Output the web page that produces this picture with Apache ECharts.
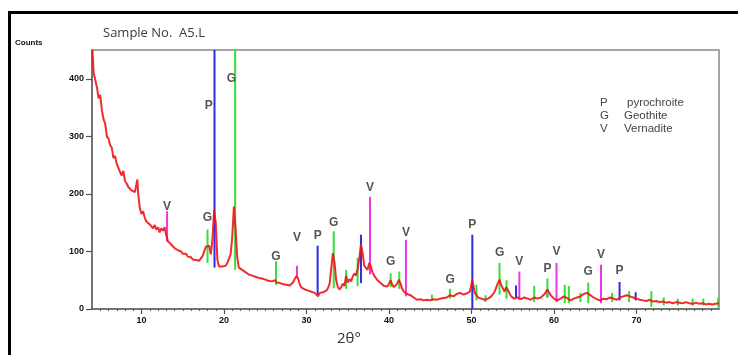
<!DOCTYPE html>
<html>
<head>
<meta charset="utf-8">
<script src="https://cdn.jsdelivr.net/npm/echarts@6/dist/echarts.min.js"></script>
<style>html,body{margin:0;padding:0;background:#fff;}#c{width:738px;height:355px;}</style>
</head>
<body>
<div id="c"></div>
<script>
// ---- Data ----
const twoTheta = [4.05,4.2,4.4,4.6,4.8,5.0,5.2,5.4,5.6,5.8,6.0,6.2,6.4,6.6,6.8,7.0,7.2,7.4,7.6,7.8,8.0,8.2,8.4,8.6,8.8,9.0,9.2,9.4,9.5,9.6,9.8,10.0,10.2,10.4,10.6,10.8,11.0,11.2,11.4,11.6,11.8,12.0,12.2,12.4,12.6,12.8,13.0,13.2,13.4,13.6,13.8,14.0,14.2,14.4,14.6,14.8,15.0,15.2,15.4,15.6,15.8,16.0,16.2,16.4,16.6,16.8,17.0,17.2,17.4,17.6,17.8,18.0,18.2,18.4,18.6,18.8,19.0,19.2,19.4,19.6,19.8,20.0,20.2,20.4,20.6,20.8,21.0,21.2,21.4,21.6,21.8,22.0,22.2,22.4,22.6,22.8,23.0,23.2,23.4,23.6,23.8,24.0,24.2,24.4,24.6,24.8,25.0,25.2,25.4,25.6,25.8,26.0,26.2,26.4,26.6,26.8,27.0,27.2,27.4,27.6,27.8,28.0,28.2,28.4,28.6,28.8,29.0,29.2,29.4,29.6,29.8,30.0,30.2,30.4,30.6,30.8,31.0,31.2,31.4,31.6,31.8,32.0,32.2,32.4,32.6,32.8,33.0,33.2,33.4,33.6,33.8,34.0,34.2,34.4,34.6,34.8,35.0,35.2,35.4,35.6,35.8,36.0,36.2,36.4,36.6,36.8,37.0,37.2,37.4,37.6,37.8,38.0,38.2,38.4,38.6,38.8,39.0,39.2,39.4,39.6,39.8,40.0,40.2,40.4,40.6,40.8,41.0,41.2,41.4,41.6,41.8,42.0,42.2,42.6,43.0,43.4,43.8,44.2,44.6,45.0,45.4,45.8,46.2,46.6,47.0,47.4,47.8,48.2,48.6,49.0,49.4,49.8,50.1,50.4,50.8,51.2,51.6,52.0,52.4,52.8,53.2,53.4,53.6,54.0,54.2,54.4,54.8,55.2,55.6,56.0,56.4,56.8,57.2,57.6,58.0,58.4,58.8,59.2,59.6,60.0,60.4,60.8,61.2,61.6,62.0,62.4,62.8,63.2,63.6,64.0,64.4,64.8,65.2,65.6,66.0,66.4,66.8,67.2,67.6,68.0,68.4,68.8,69.2,69.6,70.0,70.4,70.8,71.2,71.6,72.0,72.4,72.8,73.2,73.6,74.0,74.4,74.8,75.2,75.6,76.0,76.4,76.8,77.2,77.6,78.0,78.4,78.8,79.2,79.6,80.0];
const counts = [450,410,398,385,366,372,345,330,322,300,296,285,280,262,266,252,245,238,232,240,222,218,212,214,206,204,203,205,225,200,175,165,170,158,152,155,147,150,140,146,138,142,133,140,136,142,128,118,115,112,110,106,104,102,99,100,96,94,96,91,89,90,86,84,85,82,84,86,92,100,108,105,110,95,120,172,150,85,74,76,74,77,75,80,78,95,125,178,140,90,72,70,68,66,64,62,60,61,58,59,56,57,54,56,53,55,51,52,49,51,48,48,50,46,44,45,42,43,41,42,40,41,43,47,53,57,52,42,37,35,34,33,32,30,30,28,28,26,22,28,27,29,31,32,36,44,70,97,80,50,38,34,38,44,40,58,46,52,48,56,62,58,70,88,112,98,75,72,68,80,74,64,58,55,50,47,45,42,40,38,39,44,50,42,38,40,44,51,44,35,30,30,26,24,20,16,17,15,16,15,17,16,18,19,20,24,22,26,28,25,27,30,50,28,20,18,16,18,22,30,45,51,42,30,38,33,22,18,20,17,20,18,16,20,18,20,25,34,24,18,15,18,22,19,15,18,20,22,26,28,24,20,17,15,18,17,20,18,16,20,22,24,22,20,18,16,15,14,16,13,14,12,13,11,12,10,12,11,10,12,10,9,11,9,10,8,9,8,9,10];

// sticks: [2θ, base count, top count, label count (optional), label 2θ (optional)]
const pyrochroite = [[18.85,72,450,353,18.15],[31.35,25,110,127],[36.6,45,129],[50.1,0,129,146],[55.4,20,41],[59.2,20,34,70],[67.95,15,47,67],[69.9,15,29]];
const goethite = [[18.0,80,138,159],[21.35,68,450,401,20.9],[26.3,42,83,91],[33.3,36,135,150],[34.8,35,68],[36.2,40,89],[40.2,38,62,83],[41.25,35,65],[45.2,14,25],[47.4,18,35,51],[50.6,15,42],[51.7,12,24],[53.4,25,80,98],[54.25,18,50],[57.6,12,40],[59.2,20,53],[61.3,10,42],[61.8,10,40],[63.2,12,28],[64.15,10,46,64],[67.05,12,28],[69.1,12,31],[71.8,4,31],[73.3,6,20],[75.0,6,18],[76.8,6,18],[78.1,6,18],[79.9,4,20]];
const vernadite = [[13.1,117,170,178],[28.85,55,75,124],[37.7,60,195,210],[42.05,22,120,132],[55.8,16,65,83],[60.3,12,80,100],[65.7,10,77,94]];

const xTickLabels = [10,20,30,40,50,60,70];
const yTickLabels = [0,100,200,300,400];
const legendItems = [['P','pyrochroite'],['G','Geothite'],['V','Vernadite']];

// ---- Chart ----
const chart = echarts.init(document.getElementById('c'), null, {renderer:'canvas'});
const minorTicks = [];
for (let v = 5; v < 80; v++) if (v % 10 !== 0) minorTicks.push(v);

function stickSeries(name, arr, color, letter) {
  return {
    type: 'custom', name: name, z: 2,
    data: arr.map(d => [d[0], d[1], d[2], d[3] != null ? d[3] : -1, d[4] != null ? d[4] : d[0]]),
    encode: {x: 0, y: [1, 2]},
    renderItem: function (params, api) {
      const x = api.value(0), b = api.value(1), t = api.value(2), ly = api.value(3), lx = api.value(4);
      const p0 = api.coord([x, b]), p1 = api.coord([x, t]);
      const children = [{type: 'line', shape: {x1: p0[0], y1: p0[1], x2: p1[0], y2: p1[1]},
        style: {stroke: color, lineWidth: 2}}];
      if (ly >= 0) {
        const pl = api.coord([lx, ly]);
        children.push({type: 'text', x: pl[0], y: pl[1],
          style: {text: letter, fill: '#555', font: 'bold 12px "Liberation Sans", Arial, sans-serif',
            align: 'center', verticalAlign: 'middle'}});
      }
      return {type: 'group', children: children};
    }
  };
}

const option = {
  animation: false,
  backgroundColor: '#ffffff',
  grid: {left: 92, right: 19, top: 50, bottom: 46, show: true, borderColor: '#888', borderWidth: 1.5, backgroundColor: 'transparent'},
  xAxis: [{
    type: 'value', min: 4, max: 80, position: 'bottom',
    axisLine: {show: true, lineStyle: {color: '#666', width: 1.5}},
    axisTick: {show: true, customValues: xTickLabels, length: 5, lineStyle: {color: '#555', width: 1.2}},
    axisLabel: {customValues: xTickLabels, color: '#111', fontWeight: 'bold', fontSize: 9, margin: 7, fontFamily: '"Liberation Sans", Arial, sans-serif'},
    splitLine: {show: false}
  }, {
    type: 'value', min: 4, max: 80, position: 'bottom',
    axisLine: {show: false},
    axisTick: {show: true, customValues: minorTicks, length: 2, lineStyle: {color: '#555', width: 1}},
    axisLabel: {show: false},
    splitLine: {show: false}
  }],
  yAxis: {
    type: 'value', min: 0, max: 450,
    axisLine: {show: true, lineStyle: {color: '#666', width: 1.5}},
    axisTick: {show: true, customValues: yTickLabels, length: 6, lineStyle: {color: '#555', width: 1.2}},
    axisLabel: {customValues: yTickLabels, color: '#111', fontWeight: 'bold', fontSize: 9, margin: 8, fontFamily: '"Liberation Sans", Arial, sans-serif'},
    splitLine: {show: false}
  },
  series: [
    stickSeries('pyrochroite', pyrochroite, '#2b2be8', 'P'),
    stickSeries('Geothite', goethite, '#33e033', 'G'),
    stickSeries('Vernadite', vernadite, '#ec36ec', 'V'),
    {
      type: 'line', name: 'pattern', z: 3, showSymbol: false, symbol: 'none',
      data: twoTheta.map((t, i) => [t, counts[i]]),
      lineStyle: {color: '#ee1515', width: 2, opacity: 0.9}
    }
  ],
  graphic: [
    {type: 'polyline', shape: {points: [[9.5, 355], [9.5, 12.5], [738, 12.5]]}, style: {stroke: '#000', lineWidth: 3, fill: null}, z: 10},
    {type: 'text', left: 15, top: 39, style: {text: 'Counts', fill: '#111', font: 'bold 8px "Liberation Sans", Arial, sans-serif'}},
    {type: 'text', left: 103, top: 27, style: {text: 'Sample No.  A5.L', fill: '#3a3a48', font: '13px "Open Sans", sans-serif'}},
    {type: 'text', left: 337, top: 331, style: {text: '2\u03b8\u00b0', fill: '#333', font: '15px "Open Sans", sans-serif'}}
  ].concat(legendItems.map((it, i) => ({
    type: 'group', left: 600, top: 97 + i * 13,
    children: [
      {type: 'text', x: 0, y: 0, style: {text: it[0], fill: '#444', font: '11.5px "Liberation Sans", Arial, sans-serif'}},
      {type: 'text', x: i === 0 ? 27 : 24, y: 0, style: {text: it[1], fill: '#444', font: '11.5px "Liberation Sans", Arial, sans-serif'}}
    ]
  })))
};
chart.setOption(option);
</script>
</body>
</html>
